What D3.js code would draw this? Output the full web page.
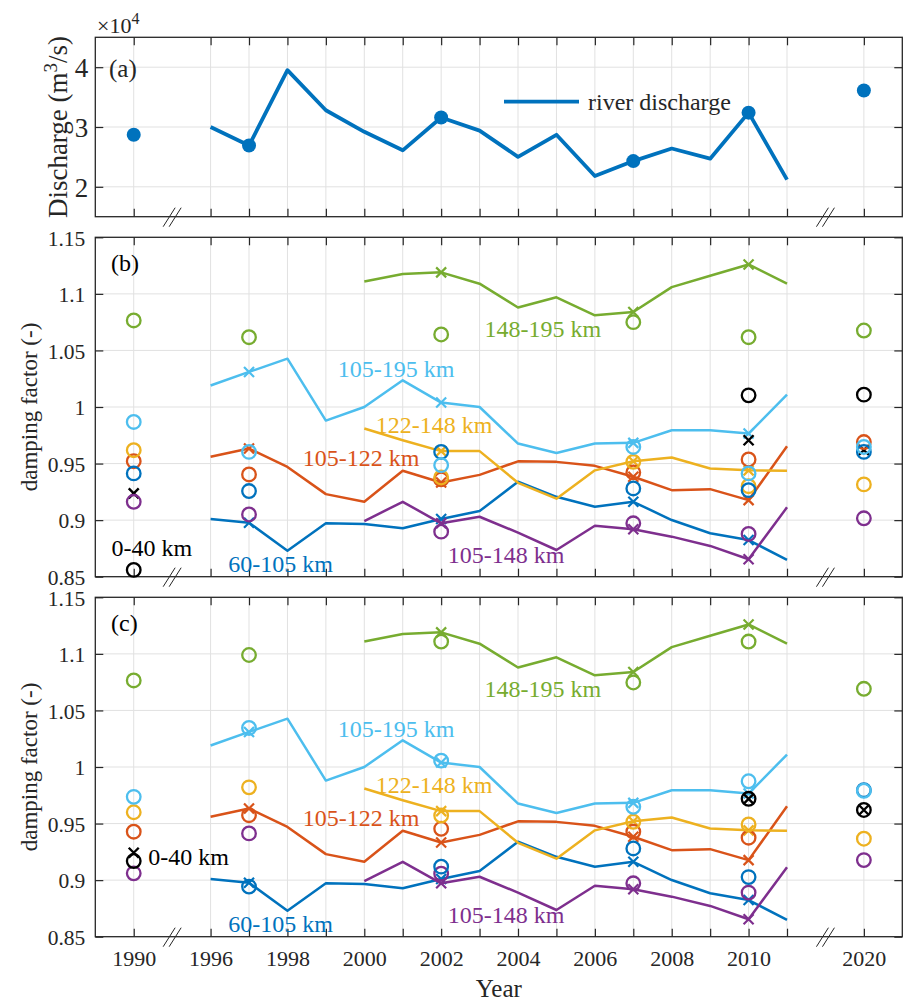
<!DOCTYPE html>
<html><head><meta charset="utf-8">
<script src="https://cdn.jsdelivr.net/npm/d3@7"></script>
<style>
body{margin:0;background:#fff}
svg{display:block}
svg text{font-family:"Liberation Serif","Times New Roman",serif !important;fill:#262626}
</style>
</head><body>
<svg id="chart" width="903" height="1002" font-family="Liberation Serif, Times New Roman, serif"></svg>
<script>
// ---------------- DATA ----------------
const lineYears = [1996,1997,1998,1999,2000,2001,2002,2003,2004,2005,2006,2007,2008,2009,2010,2011];
const lateYears = [2000,2001,2002,2003,2004,2005,2006,2007,2008,2009,2010,2011];
const crossYears = [1997,2002,2007,2010];
const obsYears = [1990,1997,2002,2007,2010,2020];
const tickYears = [1990,1996,1997,1998,1999,2000,2001,2002,2003,2004,2005,2006,2007,2008,2009,2010,2011,2020];
const tickLabelYears = [1990,1996,1998,2000,2002,2004,2006,2008,2010,2020];
const dischargeTicks = [2,3,4];
const dampTicks = [0.85,0.9,0.95,1,1.05,1.1,1.15];

// discharge (x 10^4 m3/s)
const discharge = [3.00,2.69,3.95,3.28,2.92,2.61,3.16,2.94,2.50,2.87,2.18,2.43,2.64,2.47,3.24,2.12];
const dischargeObs = [2.87,2.69,3.16,2.43,3.24,3.61];

// simulated damping factor lines (same in b and c)
const sim60_105  = [0.901,0.8977,0.873,0.8972,0.8966,0.8928,0.901,0.908,0.934,0.9206,0.9118,0.9162,0.9001,0.8884,0.8824,0.8648];
const sim105_122 = [0.956,0.9633,0.947,0.923,0.9162,0.9436,0.9333,0.940,0.952,0.9515,0.948,0.9383,0.9265,0.9274,0.9177,0.9653];
const sim105_195 = [1.019,1.031,1.0427,0.988,1.000,1.0236,1.0039,1.000,0.9677,0.9594,0.9677,0.9683,0.9794,0.9794,0.9765,1.011];
const sim122_148 = [0.981,0.9706,0.961,0.961,0.933,0.919,0.944,0.952,0.9554,0.9457,0.944,0.9436];
const sim105_148 = [0.8992,0.9162,0.8972,0.903,0.889,0.8736,0.895,0.8919,0.8854,0.8772,0.8654,0.9113];
const sim148_195 = [1.111,1.1176,1.119,1.109,1.088,1.097,1.081,1.084,1.106,1.116,1.126,1.109];

// observed (circles), panel b, at obsYears
const obsB148_195 = [1.0765,1.0617,1.0641,1.075,1.0617,1.0676];
const obsB105_122 = [0.9521,0.9404,0.936,0.9422,0.9536,0.969];
const obsB122_148 = [0.9618,null,0.9377,0.9515,0.930,0.9316];
const obsB105_148 = [0.9162,0.905,0.8898,0.8972,0.8878,0.9016];
const obsB60_105  = [0.9413,0.9257,0.9603,0.928,0.9265,0.9603];
const obsB105_195 = [0.9868,0.9603,0.9486,0.9647,0.9413,0.9647];
const obsB0_40    = [0.856,null,null,null,1.0103,1.0109];
const simB0_40    = [0.9236,null,null,null,0.9706,0.962];

// observed (circles), panel c
const obsC148_195 = [1.0765,1.099,1.1109,1.0747,1.1109,1.0691];
const obsC105_122 = [0.9428,0.9574,0.9454,0.9428,0.9375,null];
const obsC122_148 = [0.960,0.982,0.9571,0.9516,0.9492,0.9366];
const obsC105_148 = [0.906,0.9413,0.9057,0.8972,0.889,0.9177];
const obsC60_105  = [null,0.8943,0.9119,0.928,0.9027,0.9795];
const obsC105_195 = [0.9736,1.0345,1.0056,0.9648,0.9874,0.979];
const obsC0_40    = [0.9169,null,null,null,0.9719,0.962];
const simC0_40    = [0.9242,null,null,null,0.9719,0.962];

const seriesNames = ["60-105 km","105-122 km","122-148 km","105-148 km","148-195 km","105-195 km","0-40 km"];

// ---------------- STYLE / LAYOUT ----------------
const SERIF = '"Liberation Serif","Times New Roman",serif';
const C = {blue:"#0072BD", orange:"#D95319", yellow:"#EDB120", purple:"#7E2F8E", green:"#77AC30", lblue:"#4DBEEE", black:"#000000"};
const AX = "#262626", GRID = "#e1e1e1";
const left = 95.3, right = 902.3;
const virt = yr => yr === 1990 ? 1994 : (yr === 2020 ? 2013 : yr);
const x = d3.scaleLinear().domain([1993, 2014]).range([left, right]);
const X = yr => x(virt(yr));
const svg = d3.select("#chart");
const T = (sel) => sel.append("text").attr("font-family", SERIF);

function frame(p) {
  const y = d3.scaleLinear().domain(p.domain).range([p.bottom, p.top]);
  const g = svg.append("g");
  // grid
  g.append("g").selectAll("line").data(tickYears).join("line")
    .attr("x1", d => X(d)).attr("x2", d => X(d)).attr("y1", p.top).attr("y2", p.bottom)
    .attr("stroke", GRID).attr("stroke-width", 1);
  g.append("g").selectAll("line").data(p.ticks.filter(t => t > p.domain[0] + 1e-9 && t < p.domain[1] - 1e-9)).join("line")
    .attr("x1", left).attr("x2", right).attr("y1", d => y(d)).attr("y2", d => y(d))
    .attr("stroke", GRID).attr("stroke-width", 1);
  // axes
  const fmtX = v => { const yr = tickYears.find(t => virt(t) === v); return (p.xlabels && tickLabelYears.includes(yr)) ? String(yr) : ""; };
  const bx = g.append("g").attr("transform", `translate(0,${p.bottom})`)
    .call(d3.axisBottom(x).tickValues(tickYears.map(virt)).tickSize(-8).tickPadding(14).tickFormat(fmtX));
  const tx = g.append("g").attr("transform", `translate(0,${p.top})`)
    .call(d3.axisTop(x).tickValues(tickYears.map(virt)).tickSize(-8).tickFormat(""));
  const ly = g.append("g").attr("transform", `translate(${left},0)`)
    .call(d3.axisLeft(y).tickValues(p.ticks).tickSize(-8).tickPadding(p.ypad).tickFormat(d3.format("~g")));
  const ry = g.append("g").attr("transform", `translate(${right},0)`)
    .call(d3.axisRight(y).tickValues(p.ticks).tickSize(-8).tickFormat(""));
  [bx, tx, ly, ry].forEach(a => {
    a.attr("font-family", SERIF);
    a.select(".domain").remove();
    a.selectAll("line").attr("stroke", AX).attr("stroke-width", 1.2);
    a.selectAll("text").attr("font-family", SERIF).attr("fill", AX);
  });
  bx.selectAll("text").attr("font-size", 22);
  ly.selectAll("text").attr("font-size", p.yfs).attr("dy", "0.36em");
  // box
  g.append("rect").attr("x", left).attr("y", p.top).attr("width", right - left).attr("height", p.bottom - p.top)
    .attr("fill", "none").attr("stroke", AX).attr("stroke-width", 1.3);
  // axis break marks
  [1995, 2012].forEach(v => {
    [-3, 3].forEach(off => {
      g.append("line").attr("x1", x(v) + off - 6).attr("x2", x(v) + off + 6)
        .attr("y1", p.bottom + 10).attr("y2", p.bottom - 9)
        .attr("stroke", AX).attr("stroke-width", 1);
    });
  });
  return {y, g};
}

// ---------------- PANEL (a) ----------------
const pa = {top: 37.3, bottom: 216.7, domain: [1.5, 4.5], ticks: dischargeTicks, ypad: 7, yfs: 27, xlabels: false};
const A = frame(pa);
A.g.append("path").datum(lineYears.map((yr, i) => [yr, discharge[i]]))
  .attr("fill", "none").attr("stroke", C.blue).attr("stroke-width", 3.8).attr("stroke-linejoin", "round")
  .attr("d", d3.line().x(d => X(d[0])).y(d => A.y(d[1])));
A.g.selectAll("circle.q").data(obsYears.map((yr, i) => [yr, dischargeObs[i]])).join("circle")
  .attr("cx", d => X(d[0])).attr("cy", d => A.y(d[1])).attr("r", 7).attr("fill", C.blue);
// legend
A.g.append("line").attr("x1", 504).attr("x2", 579).attr("y1", 101.7).attr("y2", 101.7)
  .attr("stroke", C.blue).attr("stroke-width", 3.8);
T(A.g).attr("x", 588).attr("y", 110).attr("font-size", 24).text("river discharge");
T(A.g).attr("x", 109).attr("y", 77).attr("font-size", 25).text("(a)");
// exponent
const ex = T(svg).attr("x", 97).attr("y", 33).attr("font-size", 22);
ex.append("tspan").text("×10");
ex.append("tspan").attr("dy", -9).attr("font-size", 16).text("4");
// y label
const yl = T(svg).attr("transform", `translate(67,${(pa.top + pa.bottom) / 2}) rotate(-90)`)
  .attr("text-anchor", "middle").attr("font-size", 27);
yl.append("tspan").text("Discharge (m");
yl.append("tspan").attr("dy", -10).attr("font-size", 19).text("3");
yl.append("tspan").attr("dy", 10).text("/s)");

// ---------------- PANELS (b),(c) ----------------
function dampPanel(p, obs, sim040, tag, lab040) {
  const P = frame(p);
  const y = P.y, g = P.g;
  const lines = [
    {yrs: lineYears, v: sim60_105, c: C.blue},
    {yrs: lineYears, v: sim105_122, c: C.orange},
    {yrs: lateYears, v: sim122_148, c: C.yellow},
    {yrs: lateYears, v: sim105_148, c: C.purple},
    {yrs: lateYears, v: sim148_195, c: C.green},
    {yrs: lineYears, v: sim105_195, c: C.lblue}
  ];
  const line = d3.line().x(d => X(d[0])).y(d => y(d[1]));
  const cross = "M-5,-5L5,5M-5,5L5,-5";
  lines.forEach(s => {
    const pts = s.yrs.map((yr, i) => [yr, s.v[i]]);
    g.append("path").datum(pts).attr("fill", "none").attr("stroke", s.c).attr("stroke-width", 2.5)
      .attr("stroke-linejoin", "round").attr("d", line);
    g.append("g").selectAll("path").data(pts.filter(d => crossYears.includes(d[0]))).join("path")
      .attr("transform", d => `translate(${X(d[0])},${y(d[1])})`).attr("d", cross)
      .attr("stroke", s.c).attr("stroke-width", 2.2).attr("fill", "none");
  });
  // black simulated crosses for 0-40 km
  g.append("g").selectAll("path").data(obsYears.map((yr, i) => [yr, sim040[i]]).filter(d => d[1] != null)).join("path")
    .attr("transform", d => `translate(${X(d[0])},${y(d[1])})`).attr("d", cross)
    .attr("stroke", C.black).attr("stroke-width", 2.4).attr("fill", "none");
  // observed circles
  obs.forEach(o => {
    g.append("g").selectAll("circle").data(obsYears.map((yr, i) => [yr, o.v[i]]).filter(d => d[1] != null)).join("circle")
      .attr("cx", d => X(d[0])).attr("cy", d => y(d[1])).attr("r", 6.8)
      .attr("fill", "none").attr("stroke", o.c).attr("stroke-width", 2.3);
  });
  // labels (anchored in data coordinates)
  const labs = [
    {t: seriesNames[4], c: C.green,  xv: 2003.13, v: 1.0694},
    {t: seriesNames[5], c: C.lblue,  xv: 1999.31, v: 1.0341},
    {t: seriesNames[2], c: C.yellow, xv: 2000.30, v: 0.9839},
    {t: seriesNames[1], c: C.orange, xv: 1998.40, v: 0.9548},
    {t: seriesNames[0], c: C.blue,   xv: 1996.46, v: 0.8613},
    {t: seriesNames[3], c: C.purple, xv: 2002.17, v: 0.8693},
    {t: seriesNames[6], c: "#000",   xv: lab040[0], v: lab040[1]}
  ];
  g.append("g").selectAll("text").data(labs).join("text")
    .attr("font-family", SERIF)
    .attr("x", d => x(d.xv)).attr("y", d => y(d.v)).attr("dy", "0.34em")
    .attr("font-size", 24).style("fill", d => d.c).text(d => d.t);
  T(g).attr("x", 111).attr("y", y(p.domain[1]) + 34).attr("font-size", 24).style("fill", "#000").text(tag);
  // y label
  T(svg).attr("transform", `translate(37,${(p.top + p.bottom) / 2}) rotate(-90)`)
    .attr("text-anchor", "middle").attr("font-size", 23).text("damping factor (-)");
  return P;
}

const pb = {top: 237.3, bottom: 576.7, domain: [0.85, 1.15], ticks: dampTicks, ypad: 10, yfs: 21.5, xlabels: false};
dampPanel(pb, [
  {v: obsB148_195, c: C.green},
  {v: obsB105_122, c: C.orange},
  {v: obsB122_148, c: C.yellow},
  {v: obsB105_148, c: C.purple},
  {v: obsB60_105,  c: C.blue},
  {v: obsB105_195, c: C.lblue},
  {v: obsB0_40,    c: C.black}
], simB0_40, "(b)", [1993.42, 0.8754]);

const pc = {top: 597.3, bottom: 936.7, domain: [0.85, 1.15], ticks: dampTicks, ypad: 10, yfs: 21.5, xlabels: true};
dampPanel(pc, [
  {v: obsC148_195, c: C.green},
  {v: obsC105_122, c: C.orange},
  {v: obsC122_148, c: C.yellow},
  {v: obsC105_148, c: C.purple},
  {v: obsC60_105,  c: C.blue},
  {v: obsC105_195, c: C.lblue},
  {v: obsC0_40,    c: C.black}
], simC0_40, "(c)", [1994.38, 0.9205]);

T(svg).attr("x", (left + right) / 2).attr("y", 997).attr("text-anchor", "middle")
  .attr("font-size", 25).text("Year");
</script>
</body></html>
